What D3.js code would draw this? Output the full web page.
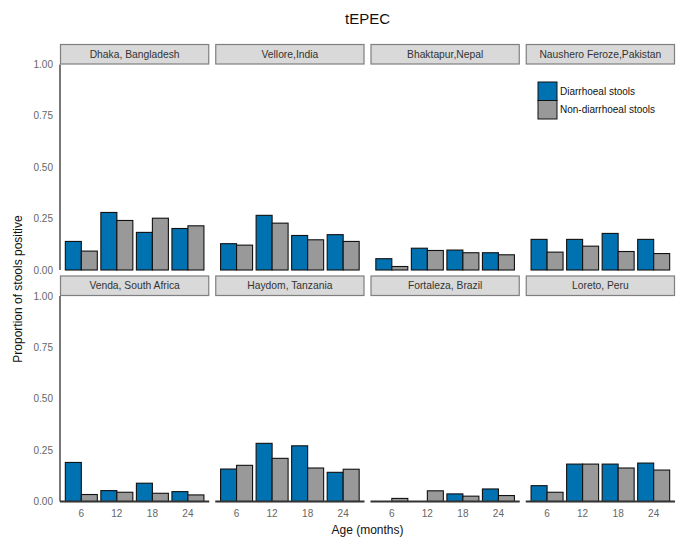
<!DOCTYPE html>
<html>
<head>
<meta charset="utf-8">
<script src="https://cdn.jsdelivr.net/npm/d3@7"></script>
<style>
  html, body { margin: 0; padding: 0; background: #fff; }
  svg { display: block; font-family: "Liberation Sans", Arial, sans-serif; }
</style>
</head>
<body>
<svg id="chart" width="687" height="543"></svg>
<script>
// ---- data ----
const title = "tEPEC";
const sites = ["Dhaka, Bangladesh", "Vellore,India", "Bhaktapur,Nepal", "Naushero Feroze,Pakistan",
               "Venda, South Africa", "Haydom, Tanzania", "Fortaleza, Brazil", "Loreto, Peru"];
const ages = ["6", "12", "18", "24"];
const seriesNames = ["Diarrhoeal stools", "Non-diarrhoeal stools"];
const diarrhoeal = [
  [0.139, 0.280, 0.183, 0.202],
  [0.128, 0.266, 0.168, 0.172],
  [0.055, 0.106, 0.097, 0.084],
  [0.149, 0.149, 0.178, 0.149],
  [0.190, 0.053, 0.089, 0.048],
  [0.158, 0.283, 0.271, 0.142],
  [0.000, 0.000, 0.037, 0.061],
  [0.077, 0.182, 0.182, 0.187]
];
const nonDiarrhoeal = [
  [0.092, 0.241, 0.252, 0.215],
  [0.121, 0.228, 0.147, 0.139],
  [0.017, 0.095, 0.084, 0.074],
  [0.087, 0.116, 0.090, 0.080],
  [0.034, 0.045, 0.040, 0.032],
  [0.176, 0.210, 0.163, 0.157],
  [0.015, 0.052, 0.026, 0.029],
  [0.045, 0.182, 0.163, 0.153]
];
const yTicks = [0, 0.25, 0.5, 0.75, 1.0];
const colors = ["#0072B2", "#999999"];

// ---- layout ----
const svg = d3.select("#chart");
const left = 60, right = 675, colGap = 6;
const nCols = 4;
const panelW = (right - left - colGap * (nCols - 1)) / nCols;
const stripTop0 = 44, stripH = 20.5, panelH = 205.5, rowGap = 5.5;

const colX = d3.range(nCols).map(i => left + i * (panelW + colGap));
const rowTop = [stripTop0, stripTop0 + stripH + panelH + rowGap];

const y = d3.scaleLinear().domain([0, 1]).range([panelH, 0]);
const x = d3.scalePoint().domain(ages).range([0, panelW]).padding(0.6);
const step = x.step();
const sub = d3.scaleBand().domain([0, 1]).range([-0.45 * step, 0.45 * step]).padding(0);

// title
svg.append("text")
  .attr("x", (left + right) / 2).attr("y", 24)
  .attr("text-anchor", "middle")
  .attr("font-size", 15).attr("fill", "#111")
  .text(title);

sites.forEach((site, i) => {
  const r = Math.floor(i / nCols), c = i % nCols;
  const gx = colX[c], sy = rowTop[r], py = sy + stripH;
  const g = svg.append("g").attr("transform", `translate(${gx},${py})`);

  // strip
  svg.append("rect")
    .attr("x", gx + 0.5).attr("y", sy + 0.5)
    .attr("width", panelW - 1).attr("height", stripH - 1)
    .attr("fill", "#d9d9d9").attr("stroke", "#7f7f7f").attr("stroke-width", 1.2);
  svg.append("text")
    .attr("x", gx + panelW / 2).attr("y", sy + stripH / 2 + 3.6)
    .attr("text-anchor", "middle").attr("font-size", 10.3).attr("fill", "#333")
    .text(site);

  // bars
  const vals = [diarrhoeal[i], nonDiarrhoeal[i]];
  vals.forEach((arr, s) => {
    g.selectAll(null).data(ages).enter().append("rect")
      .attr("x", a => x(a) + sub(s))
      .attr("y", (a, k) => y(arr[k]))
      .attr("width", sub.bandwidth())
      .attr("height", (a, k) => panelH - y(arr[k]))
      .attr("fill", colors[s])
      .attr("stroke", "#111").attr("stroke-width", 1.1);
  });

  // left axis (first column)
  if (c === 0) {
    g.append("line").attr("x1", 0).attr("x2", 0).attr("y1", 0).attr("y2", panelH)
      .attr("stroke", "#555").attr("stroke-width", 1.6);
    g.selectAll(null).data(yTicks).enter().append("text")
      .attr("x", -7).attr("y", d => y(d) + 3.5)
      .attr("text-anchor", "end").attr("font-size", 10).attr("fill", "#666")
      .text(d => d3.format(".2f")(d));
  }
  // bottom axis (bottom row)
  if (r === 1) {
    g.append("line").attr("x1", 0).attr("x2", panelW).attr("y1", panelH).attr("y2", panelH)
      .attr("stroke", "#333").attr("stroke-width", 1.8);
    g.selectAll(null).data(ages).enter().append("text")
      .attr("x", a => x(a)).attr("y", panelH + 15.5)
      .attr("text-anchor", "middle").attr("font-size", 10).attr("fill", "#666")
      .text(a => a);
  }
});

// axis titles
svg.append("text")
  .attr("transform", `translate(22,${(rowTop[0] + stripH + rowTop[1] + stripH + panelH) / 2 + 6}) rotate(-90)`)
  .attr("text-anchor", "middle").attr("font-size", 12).attr("fill", "#111")
  .text("Proportion of stools positive");
svg.append("text")
  .attr("x", (left + right) / 2).attr("y", 534)
  .attr("text-anchor", "middle").attr("font-size", 12).attr("fill", "#111")
  .text("Age (months)");

// legend
const lg = svg.append("g").attr("transform", "translate(538,82)");
seriesNames.forEach((n, k) => {
  lg.append("rect").attr("x", 0).attr("y", k * 18.5).attr("width", 19).attr("height", 18.5)
    .attr("fill", colors[k]).attr("stroke", "#111").attr("stroke-width", 1);
  lg.append("text").attr("x", 22).attr("y", k * 18.5 + 12.5)
    .attr("font-size", 10).attr("fill", "#111").text(n);
});
</script>
</body>
</html>
